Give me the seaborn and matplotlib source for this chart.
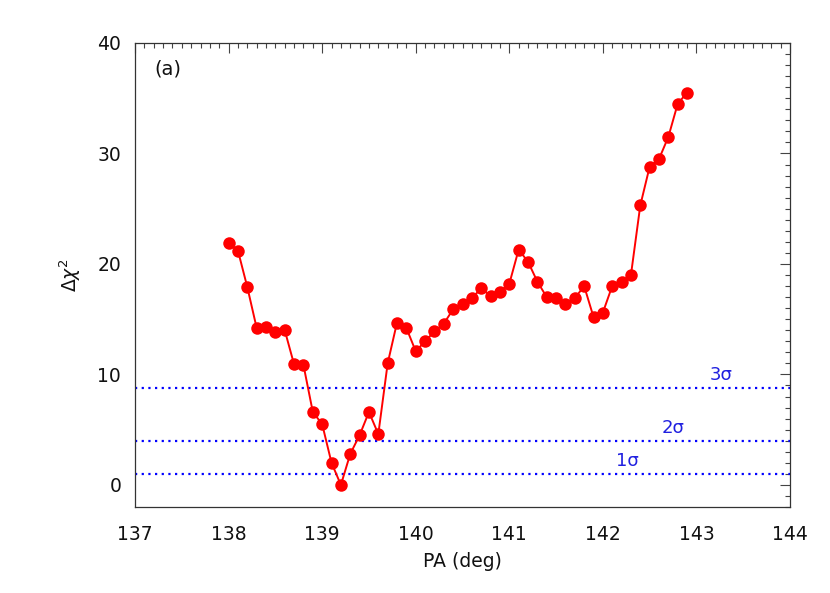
import numpy as np
import pandas as pd
import seaborn as sns
import matplotlib
matplotlib.use("Agg")
import matplotlib.pyplot as plt
from matplotlib.ticker import MultipleLocator

# Dati
pa = [138.0, 138.1, 138.2, 138.3, 138.4, 138.5, 138.6, 138.7, 138.8, 138.9,
      139.0, 139.1, 139.2, 139.3, 139.4, 139.5, 139.6, 139.7, 139.8, 139.9,
      140.0, 140.1, 140.2, 140.3, 140.4, 140.5, 140.6, 140.7, 140.8, 140.9,
      141.0, 141.1, 141.2, 141.3, 141.4, 141.5, 141.6, 141.7, 141.8, 141.9,
      142.0, 142.1, 142.2, 142.3, 142.4, 142.5, 142.6, 142.7, 142.8, 142.9]
dchi2 = [21.9, 21.2, 17.9, 14.2, 14.3, 13.8, 14.0, 10.9, 10.85, 6.6,
         5.5, 2.0, 0.0, 2.8, 4.5, 6.6, 4.6, 11.0, 14.7, 14.2,
         12.1, 13.0, 13.9, 14.6, 15.9, 16.4, 16.9, 17.8, 17.1, 17.5,
         18.2, 21.3, 20.2, 18.4, 17.0, 16.9, 16.4, 16.9, 18.0, 15.2,
         15.6, 18.0, 18.4, 19.0, 25.3, 28.8, 29.5, 31.5, 34.5, 35.5]
sigma_levels = [1.0, 4.0, 8.8]
sigma_labels = ['1σ', '2σ', '3σ']
sigma_label_x = [142.14, 142.63, 143.14]

df = pd.DataFrame({'PA': pa, 'dchi2': dchi2})

sns.set_style("white")
plt.rcParams['font.family'] = ['DejaVu Sans']
plt.rcParams['mathtext.fontset'] = 'dejavusans'
plt.rcParams['text.color'] = '#111111'
plt.rcParams['axes.labelcolor'] = '#111111'
plt.rcParams['xtick.color'] = '#111111'
plt.rcParams['ytick.color'] = '#111111'

fig = plt.figure(figsize=(8.3, 5.93), dpi=100)
ax = fig.add_axes([0.1627, 0.145, 0.7891, 0.7825])

# Livelli di confidenza
for lev, lab, lx in zip(sigma_levels, sigma_labels, sigma_label_x):
    ax.axhline(lev, color='#0000ff', lw=1.6, ls=(0, (1, 2)))
    ax.text(lx, lev + 0.35, lab, color='#2020e0', fontsize=13, ha='left', va='bottom')

sns.lineplot(data=df, x='PA', y='dchi2', color='red', lw=1.4, marker='o',
             markersize=9, markeredgecolor='red', markeredgewidth=0, ax=ax)

ax.set_xlim(137, 144)
ax.set_ylim(-2, 40)
ax.xaxis.set_major_locator(MultipleLocator(1))
ax.xaxis.set_minor_locator(MultipleLocator(0.1))
ax.yaxis.set_major_locator(MultipleLocator(10))
ax.yaxis.set_minor_locator(MultipleLocator(1))
ax.tick_params(which='both', direction='in', top=True, right=True, color='#444444',
               labelsize=13.5)
ax.tick_params(axis='x', pad=13)
ax.tick_params(axis='y', pad=10)
ax.tick_params(which='major', length=7, width=0.8)
ax.tick_params(which='minor', length=3.5, width=0.8)
for s in ax.spines.values():
    s.set_color('#333333')
    s.set_linewidth(0.9)

ax.set_xlabel('PA (deg)', fontsize=13.5, labelpad=6)
ax.set_ylabel(r'$\Delta\chi^2$', fontsize=13.5, labelpad=10)
ax.text(0.03, 0.965, '(a)', transform=ax.transAxes, fontsize=14, va='top', ha='left')

plt.savefig('out.png', dpi=100)
